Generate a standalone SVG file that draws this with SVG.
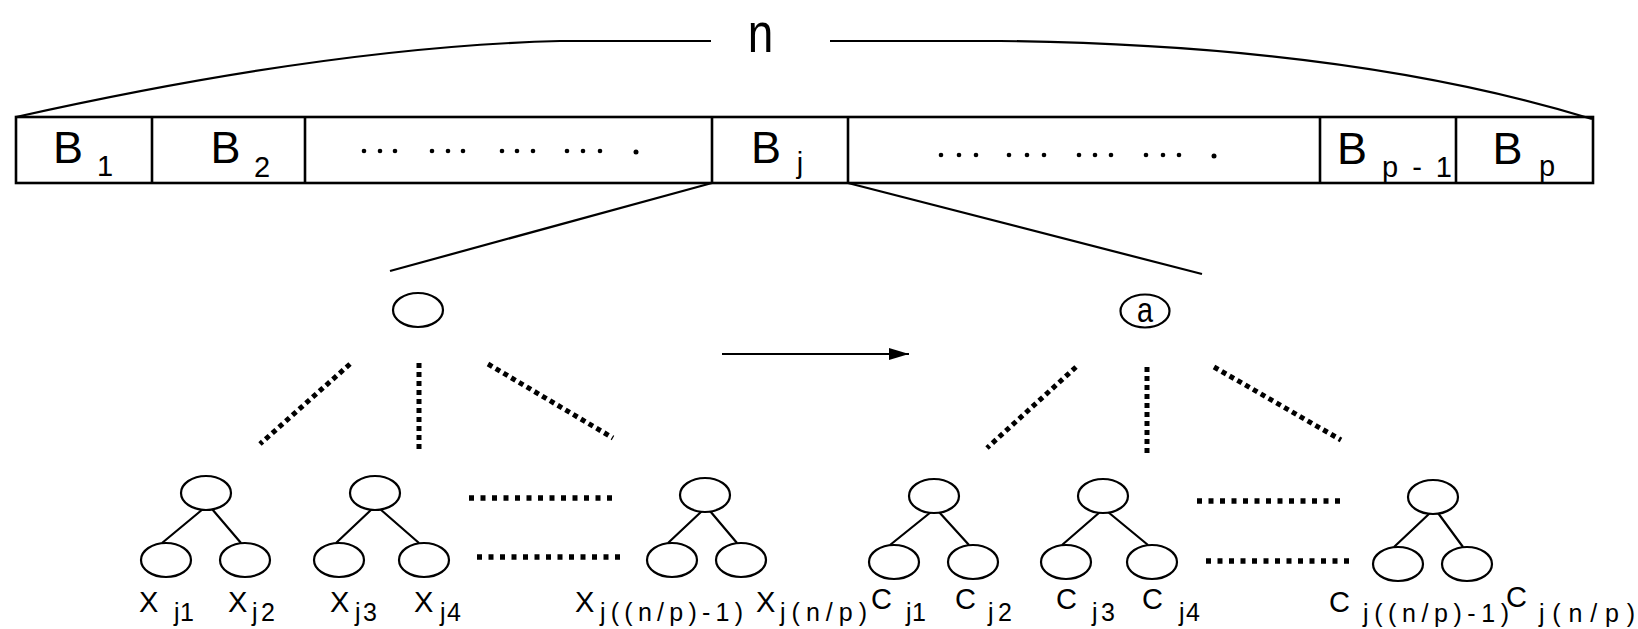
<svg xmlns="http://www.w3.org/2000/svg" width="1638" height="629" viewBox="0 0 1638 629">
  <style>
    .ln { fill: none; stroke: #000; stroke-width: 2.2; }
    .box { fill: none; stroke: #000; stroke-width: 2.6; }
    .nd { fill: #fff; stroke: #000; stroke-width: 2.2; }
    .dd { fill: none; stroke: #000; stroke-width: 5; stroke-dasharray: 5 4; }
    .dh { fill: none; stroke: #000; stroke-width: 5.5; stroke-dasharray: 5 6.5; }
    .dot { fill: #000; }
    text { font-family: "Liberation Sans", Arial, sans-serif; fill: #000; }
    .big { font-size: 45px; }
    .bsub { font-size: 29px; }
    .main { font-size: 29px; }
    .sub { font-size: 25px; }
  </style>
  <defs>
    <marker id="head" viewBox="0 0 20 12" refX="20" refY="6" markerWidth="20" markerHeight="12" markerUnits="userSpaceOnUse" orient="auto">
      <path d="M0,0 L20,6 L0,12 Z" fill="#000"/>
    </marker>
  </defs>

  <!-- span brace over the whole array -->
  <g id="span-n">
    <path class="ln" d="M16,117 Q330,47 560,41 L711,41"/>
    <path class="ln" d="M830,41 L1000,41 Q1350,45 1592,119"/>
    <text transform="translate(760.5,52) scale(0.82,1)" font-size="56" text-anchor="middle">n</text>
  </g>

  <!-- block array B1 .. Bp -->
  <g id="blocks">
    <rect class="box" x="16" y="117" width="1577" height="66"/>
    <line class="box" x1="152" y1="117" x2="152" y2="183"/>
    <line class="box" x1="305" y1="117" x2="305" y2="183"/>
    <line class="box" x1="712" y1="117" x2="712" y2="183"/>
    <line class="box" x1="848" y1="117" x2="848" y2="183"/>
    <line class="box" x1="1320" y1="117" x2="1320" y2="183"/>
    <line class="box" x1="1456" y1="117" x2="1456" y2="183"/>
  </g>
  <g id="block-B1">
    <text class="big" x="68" y="163" text-anchor="middle">B</text>
    <text class="bsub" x="105" y="176" text-anchor="middle">1</text>
  </g>
  <g id="block-B2">
    <text class="big" x="225.5" y="163" text-anchor="middle">B</text>
    <text class="bsub" x="262" y="177" text-anchor="middle">2</text>
  </g>
  <g id="block-gap1">
    <circle class="dot" cx="364" cy="151" r="2.3"/><circle class="dot" cx="380" cy="151" r="2.3"/><circle class="dot" cx="395" cy="151" r="2.3"/>
    <circle class="dot" cx="432" cy="151" r="2.3"/><circle class="dot" cx="448" cy="151" r="2.3"/><circle class="dot" cx="463" cy="151" r="2.3"/>
    <circle class="dot" cx="502" cy="151" r="2.3"/><circle class="dot" cx="517" cy="151" r="2.3"/><circle class="dot" cx="533" cy="151" r="2.3"/>
    <circle class="dot" cx="567" cy="151" r="2.3"/><circle class="dot" cx="583" cy="151" r="2.3"/><circle class="dot" cx="600" cy="151" r="2.3"/>
    <circle class="dot" cx="636" cy="152" r="2.5"/>
  </g>
  <g id="block-Bj">
    <text class="big" x="766" y="163" text-anchor="middle">B</text>
    <text class="bsub" x="800" y="173" text-anchor="middle">j</text>
  </g>
  <g id="block-gap2">
    <circle class="dot" cx="941" cy="155" r="2.3"/><circle class="dot" cx="959" cy="155" r="2.3"/><circle class="dot" cx="976" cy="155" r="2.3"/>
    <circle class="dot" cx="1009" cy="155" r="2.3"/><circle class="dot" cx="1027" cy="155" r="2.3"/><circle class="dot" cx="1044" cy="155" r="2.3"/>
    <circle class="dot" cx="1079" cy="155" r="2.3"/><circle class="dot" cx="1095" cy="155" r="2.3"/><circle class="dot" cx="1111" cy="155" r="2.3"/>
    <circle class="dot" cx="1146" cy="155" r="2.3"/><circle class="dot" cx="1163" cy="155" r="2.3"/><circle class="dot" cx="1179" cy="155" r="2.3"/>
    <circle class="dot" cx="1214" cy="156" r="2.5"/>
  </g>
  <g id="block-Bp-1">
    <text class="big" x="1352" y="164" text-anchor="middle">B</text>
    <text class="bsub" x="1382" y="177" textLength="70" lengthAdjust="spacing">p - 1</text>
  </g>
  <g id="block-Bp">
    <text class="big" x="1507.5" y="164" text-anchor="middle">B</text>
    <text class="bsub" x="1547" y="176" text-anchor="middle">p</text>
  </g>

  <!-- connectors -->
  <g id="connectors">
    <line class="ln" x1="712" y1="183" x2="390" y2="271"/>
    <line class="ln" x1="848" y1="183" x2="1202" y2="274"/>
    <line class="ln" x1="722" y1="354" x2="909" y2="354" marker-end="url(#head)"/>

    <line class="dd" x1="350" y1="364" x2="260" y2="444"/>
    <line class="dd" x1="419" y1="363" x2="419" y2="451"/>
    <line class="dd" x1="488" y1="364" x2="613" y2="438"/>

    <line class="dd" x1="1076" y1="367" x2="987" y2="448"/>
    <line class="dd" x1="1147" y1="367" x2="1147" y2="454"/>
    <line class="dd" x1="1214" y1="367" x2="1341" y2="440"/>

    <line class="dh" x1="469" y1="498" x2="615" y2="498"/>
    <line class="dh" x1="477" y1="557" x2="626" y2="557"/>
    <line class="dh" x1="1197" y1="501" x2="1342" y2="501"/>
    <line class="dh" x1="1206" y1="561" x2="1353" y2="561"/>

    <!-- subtree edges -->
    <path class="ln" d="M203,509 L162,543 M212,509 L241,543"/>
    <path class="ln" d="M372,509 L336,543 M380,509 L419,543"/>
    <path class="ln" d="M702,511 L668,543 M710,511 L737,543"/>
    <path class="ln" d="M931,512 L890,545 M939,512 L969,545"/>
    <path class="ln" d="M1100,512 L1062,545 M1108,512 L1148,545"/>
    <path class="ln" d="M1430,513 L1394,547 M1438,513 L1463,547"/>
  </g>

  <!-- root nodes -->
  <g id="root-left">
    <ellipse class="nd" cx="418" cy="310" rx="25" ry="17"/>
  </g>
  <g id="root-right">
    <ellipse class="nd" cx="1145" cy="311" rx="24.5" ry="16.5"/>
    <text transform="translate(1145,322) scale(0.8,1)" font-size="36" text-anchor="middle">a</text>
  </g>

  <!-- leaf pairs, left half -->
  <g id="tree-x1">
    <ellipse class="nd" cx="206" cy="493" rx="25" ry="17"/>
    <ellipse class="nd" cx="166" cy="560" rx="25" ry="17"/>
    <ellipse class="nd" cx="245" cy="560" rx="25" ry="17"/>
  </g>
  <g id="tree-x2">
    <ellipse class="nd" cx="375" cy="493" rx="25" ry="17"/>
    <ellipse class="nd" cx="339" cy="560" rx="25" ry="17"/>
    <ellipse class="nd" cx="424" cy="560" rx="25" ry="17"/>
  </g>
  <g id="tree-x3">
    <ellipse class="nd" cx="705" cy="495" rx="25" ry="17"/>
    <ellipse class="nd" cx="672" cy="560" rx="25" ry="17"/>
    <ellipse class="nd" cx="741" cy="560" rx="25" ry="17"/>
  </g>

  <!-- leaf pairs, right half -->
  <g id="tree-c1">
    <ellipse class="nd" cx="934" cy="496" rx="25" ry="17"/>
    <ellipse class="nd" cx="894" cy="562" rx="25" ry="17"/>
    <ellipse class="nd" cx="973" cy="562" rx="25" ry="17"/>
  </g>
  <g id="tree-c2">
    <ellipse class="nd" cx="1103" cy="496" rx="25" ry="17"/>
    <ellipse class="nd" cx="1066" cy="562" rx="25" ry="17"/>
    <ellipse class="nd" cx="1152" cy="562" rx="25" ry="17"/>
  </g>
  <g id="tree-c3">
    <ellipse class="nd" cx="1433" cy="497" rx="25" ry="17"/>
    <ellipse class="nd" cx="1398" cy="564" rx="25" ry="17"/>
    <ellipse class="nd" cx="1467" cy="564" rx="25" ry="17"/>
  </g>

  <!-- leaf labels -->
  <g id="labels-x">
    <text class="main" x="139" y="612">X</text><text class="sub" x="174" y="621" textLength="20" lengthAdjust="spacing">j1</text>
    <text class="main" x="228" y="612">X</text><text class="sub" x="252" y="621" textLength="23" lengthAdjust="spacing">j2</text>
    <text class="main" x="330" y="612">X</text><text class="sub" x="355" y="621" textLength="22" lengthAdjust="spacing">j3</text>
    <text class="main" x="414" y="612">X</text><text class="sub" x="440" y="621" textLength="21" lengthAdjust="spacing">j4</text>
    <text class="main" x="575" y="612">X</text><text class="sub" x="600" y="621" textLength="143" lengthAdjust="spacing">j((n/p)-1)</text>
    <text class="main" x="756" y="612">X</text><text class="sub" x="780" y="621" textLength="87" lengthAdjust="spacing">j(n/p)</text>
  </g>
  <g id="labels-c">
    <text class="main" x="871" y="609">C</text><text class="sub" x="906" y="621" textLength="20" lengthAdjust="spacing">j1</text>
    <text class="main" x="955" y="609">C</text><text class="sub" x="988" y="621" textLength="24" lengthAdjust="spacing">j2</text>
    <text class="main" x="1056" y="609">C</text><text class="sub" x="1092" y="621" textLength="23" lengthAdjust="spacing">j3</text>
    <text class="main" x="1142" y="609">C</text><text class="sub" x="1179" y="621" textLength="21" lengthAdjust="spacing">j4</text>
    <text class="main" x="1329" y="612">C</text><text class="sub" x="1363" y="622" textLength="146" lengthAdjust="spacing">j((n/p)-1)</text>
    <text class="main" x="1506" y="607">C</text><text class="sub" x="1539" y="622" textLength="96" lengthAdjust="spacing">j(n/p)</text>
  </g>
</svg>
